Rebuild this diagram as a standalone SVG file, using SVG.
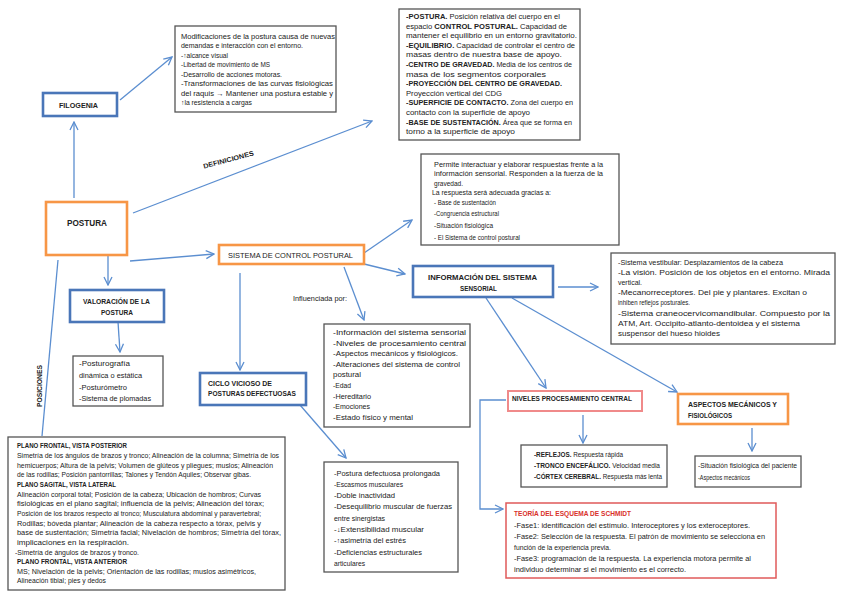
<svg xmlns="http://www.w3.org/2000/svg" width="848" height="599" viewBox="0 0 848 599">
<style>
text{font-family:"Liberation Sans",Arial,sans-serif;fill:#222;font-size:6.8px}
.b{font-weight:bold}
.lb{font-weight:bold;font-size:7px}
.sm{font-size:6.3px}
.bx{fill:#fff;stroke:#555;stroke-width:1.3}
.blue{fill:#fff;stroke:#4a76b8;stroke-width:2.6}
.orange{fill:#fff;stroke:#f79646;stroke-width:2.6}
.pink{fill:#fff;stroke:#f08a8a;stroke-width:2}
.red{fill:#fff;stroke:#e05a5a;stroke-width:1.5}
.con{fill:none;stroke:#5b8ed0;stroke-width:1.3;marker-end:url(#ah)}
.ln{fill:none;stroke:#5b8ed0;stroke-width:1.3}
</style>
<defs>
<marker id="ah" viewBox="0 0 10 10" refX="9" refY="5" markerWidth="10" markerHeight="10" markerUnits="userSpaceOnUse" orient="auto">
<path d="M1,1 L9,5 L1,9" fill="none" stroke="#5b8ed0" stroke-width="1.3"/>
</marker>
</defs>
<rect width="848" height="599" fill="#fff"/>

<g id="connectors">
<path class="con" d="M74,198 L74,122"/>
<path class="con" d="M120,100 L172,57"/>
<path class="con" d="M133,213 L372,121"/>
<path class="con" d="M130,261 L214,254"/>
<path class="con" d="M108,256 L108,285"/>
<path class="con" d="M118,322 L120,352"/>
<path class="ln" d="M58,260 L42,436"/>
<path class="con" d="M364,253 L412,220"/>
<path class="con" d="M360,263 L405,274"/>
<path class="con" d="M344,267 L364,320"/>
<path class="con" d="M240,273 L240,370"/>
<path class="con" d="M300,405 L346,458"/>
<path class="con" d="M558,287 L598,287"/>
<path class="con" d="M486,298 L546,388"/>
<path class="con" d="M512,298 L677,392"/>
<path class="con" d="M583,415 L583,443"/>
<path class="con" d="M752,428 L752,451"/>
<path class="con" d="M506,400 L480,400 L480,509 L503,509"/>
</g>

<g id="definiciones-label">
<text class="b" transform="translate(229,162) rotate(-15)" x="-26" y="0" textLength="52" lengthAdjust="spacingAndGlyphs">DEFINICIONES</text>
</g>
<g id="posiciones-label">
<text class="b" transform="translate(42,386) rotate(-90)" x="-21" y="0" textLength="42" lengthAdjust="spacingAndGlyphs">POSICIONES</text>
</g>
<g id="influenciada-label">
<text x="293" y="300.5" textLength="54" lengthAdjust="spacingAndGlyphs">Influenciada por:</text>
</g>

<g id="filogenia">
<rect class="blue" x="43" y="93" width="74" height="23"/>
<text class="lb" x="59" y="107.5" textLength="39" lengthAdjust="spacingAndGlyphs">FILOGENIA</text>
</g>

<g id="postura">
<rect class="orange" x="46" y="202" width="81" height="53"/>
<text class="b" style="font-size:8.5px" x="67" y="225.5" textLength="40" lengthAdjust="spacingAndGlyphs">POSTURA</text>
</g>

<g id="valoracion">
<rect class="blue" x="70" y="290" width="94" height="32"/>
<text class="b" x="83" y="303.5" textLength="67" lengthAdjust="spacingAndGlyphs">VALORACIÓN DE LA</text>
<text class="b" x="101" y="314.5" textLength="32" lengthAdjust="spacingAndGlyphs">POSTURA</text>
</g>

<g id="valoracion-lista">
<rect class="bx" x="73" y="356" width="90" height="50"/>
<text x="79" y="365.5" textLength="51" lengthAdjust="spacingAndGlyphs">-Posturografía</text>
<text x="79" y="378" textLength="63" lengthAdjust="spacingAndGlyphs">dinámica o estática</text>
<text x="79" y="389.5" textLength="48" lengthAdjust="spacingAndGlyphs">-Posturómetro</text>
<text x="79" y="400.5" textLength="72" lengthAdjust="spacingAndGlyphs">-Sistema de plomadas</text>
</g>

<g id="filogenia-texto">
<rect class="bx" x="175" y="26" width="161" height="86"/>
<text x="181" y="38.5" textLength="154" lengthAdjust="spacingAndGlyphs">Modificaciones de la postura causa de nuevas</text>
<text x="181" y="48" textLength="122" lengthAdjust="spacingAndGlyphs">demandas e interacción con el entorno.</text>
<text x="181" y="57.5" textLength="47" lengthAdjust="spacingAndGlyphs">-↑alcance visual</text>
<text x="181" y="67" textLength="89" lengthAdjust="spacingAndGlyphs">-Libertad de movimiento de MS</text>
<text x="181" y="76.5" textLength="101" lengthAdjust="spacingAndGlyphs">-Desarrollo de acciones motoras.</text>
<text x="181" y="86" textLength="152" lengthAdjust="spacingAndGlyphs">-Transformaciones de las curvas fisiológicas</text>
<text x="181" y="95.5" textLength="152" lengthAdjust="spacingAndGlyphs">del raquis → Mantener una postura estable y</text>
<text x="181" y="105" textLength="71" lengthAdjust="spacingAndGlyphs">↑la resistencia a cargas</text>
</g>

<g id="definiciones">
<rect class="bx" x="399" y="9" width="181" height="131"/>
<text x="406" y="19" textLength="154" lengthAdjust="spacingAndGlyphs"><tspan class="b">-POSTURA.</tspan> Posición relativa del cuerpo en el</text>
<text x="406" y="28.6" textLength="161" lengthAdjust="spacingAndGlyphs">espacio <tspan class="b">CONTROL POSTURAL.</tspan> Capacidad de</text>
<text x="406" y="38.2" textLength="171" lengthAdjust="spacingAndGlyphs">mantener el equilibrio en un entorno gravitatorio.</text>
<text x="406" y="47.8" textLength="169" lengthAdjust="spacingAndGlyphs"><tspan class="b">-EQUILIBRIO.</tspan> Capacidad de controlar el centro de</text>
<text x="406" y="57.4" textLength="156" lengthAdjust="spacingAndGlyphs">masas dentro de nuestra base de apoyo.</text>
<text x="406" y="67" textLength="166" lengthAdjust="spacingAndGlyphs"><tspan class="b">-CENTRO DE GRAVEDAD.</tspan> Media de los centros de</text>
<text x="406" y="76.6" textLength="140" lengthAdjust="spacingAndGlyphs">masa de los segmentos corporales</text>
<text x="406" y="86.2" textLength="156" lengthAdjust="spacingAndGlyphs"><tspan class="b">-PROYECCIÓN DEL CENTRO DE GRAVEDAD.</tspan></text>
<text x="406" y="95.8" textLength="96" lengthAdjust="spacingAndGlyphs">Proyección vertical del CDG</text>
<text x="406" y="105.4" textLength="167" lengthAdjust="spacingAndGlyphs"><tspan class="b">-SUPERFICIE DE CONTACTO.</tspan> Zona del cuerpo en</text>
<text x="406" y="115" textLength="124" lengthAdjust="spacingAndGlyphs">contacto con la superficie de apoyo</text>
<text x="406" y="124.6" textLength="166" lengthAdjust="spacingAndGlyphs"><tspan class="b">-BASE DE SUSTENTACIÓN.</tspan> Área que se forma en</text>
<text x="406" y="134.2" textLength="109" lengthAdjust="spacingAndGlyphs">torno a la superficie de apoyo</text>
</g>

<g id="sistema-control">
<rect class="orange" x="219" y="245" width="145" height="19"/>
<text style="font-size:7.5px" x="228" y="258" textLength="125" lengthAdjust="spacingAndGlyphs">SISTEMA DE CONTROL POSTURAL</text>
</g>

<g id="sistema-texto">
<rect class="bx" x="421" y="154" width="198" height="91"/>
<text x="434" y="166.5" textLength="169" lengthAdjust="spacingAndGlyphs">Permite interactuar y elaborar respuestas frente a la</text>
<text x="434" y="176" textLength="169" lengthAdjust="spacingAndGlyphs">información sensorial. Responden a la fuerza de la</text>
<text x="434" y="185.5" textLength="29" lengthAdjust="spacingAndGlyphs">gravedad.</text>
<text x="432" y="195" textLength="119" lengthAdjust="spacingAndGlyphs">La respuesta será adecuada gracias a:</text>
<text x="434" y="205" textLength="62" lengthAdjust="spacingAndGlyphs">- Base de sustentación</text>
<text x="434" y="216" textLength="65" lengthAdjust="spacingAndGlyphs">-Congruencia estructural</text>
<text x="434" y="227.5" textLength="59" lengthAdjust="spacingAndGlyphs">-Situación fisiológica</text>
<text x="434" y="240" textLength="86" lengthAdjust="spacingAndGlyphs">- El Sistema de control postural</text>
</g>

<g id="informacion-sensorial">
<rect class="blue" x="413" y="266" width="140" height="31"/>
<text class="b" x="428" y="280" textLength="109" lengthAdjust="spacingAndGlyphs">INFORMACIÓN DEL SISTEMA</text>
<text class="b" x="460" y="291" textLength="37" lengthAdjust="spacingAndGlyphs">SENSORIAL</text>
</g>

<g id="sensorial-texto">
<rect class="bx" x="611" y="253" width="224" height="91"/>
<text x="618" y="264.5" textLength="165" lengthAdjust="spacingAndGlyphs">-Sistema vestibular: Desplazamientos de la cabeza</text>
<text x="618" y="274.7" textLength="212" lengthAdjust="spacingAndGlyphs">-La visión. Posición de los objetos en el entorno. Mirada</text>
<text x="618" y="284.9" textLength="24" lengthAdjust="spacingAndGlyphs">vertical.</text>
<text x="618" y="295.1" textLength="189" lengthAdjust="spacingAndGlyphs">-Mecanorreceptores. Del pie y plantares. Excitan o</text>
<text x="618" y="305.3" textLength="72" lengthAdjust="spacingAndGlyphs">inhiben reflejos posturales.</text>
<text x="618" y="315.5" textLength="212" lengthAdjust="spacingAndGlyphs">-Sistema craneocervicomandibular. Compuesto por la</text>
<text x="618" y="325.7" textLength="182" lengthAdjust="spacingAndGlyphs">ATM, Art. Occipito-atlanto-dentoidea y el sistema</text>
<text x="618" y="335.9" textLength="102" lengthAdjust="spacingAndGlyphs">suspensor del hueso hioides</text>
</g>

<g id="influenciada">
<rect class="bx" x="324" y="324" width="146" height="103"/>
<text x="333" y="335" textLength="133" lengthAdjust="spacingAndGlyphs">-Información del sistema sensorial</text>
<text x="333" y="345.6" textLength="133" lengthAdjust="spacingAndGlyphs">-Niveles de procesamiento central</text>
<text x="333" y="356.2" textLength="125" lengthAdjust="spacingAndGlyphs">-Aspectos mecánicos y fisiológicos.</text>
<text x="333" y="366.8" textLength="127" lengthAdjust="spacingAndGlyphs">-Alteraciones del sistema de control</text>
<text x="333" y="377.4" textLength="28" lengthAdjust="spacingAndGlyphs">postural</text>
<text x="333" y="388" textLength="18" lengthAdjust="spacingAndGlyphs">-Edad</text>
<text x="333" y="398.6" textLength="38" lengthAdjust="spacingAndGlyphs">-Hereditario</text>
<text x="333" y="409.2" textLength="37" lengthAdjust="spacingAndGlyphs">-Emociones</text>
<text x="333" y="419.8" textLength="80" lengthAdjust="spacingAndGlyphs">-Estado físico y mental</text>
</g>

<g id="ciclo-vicioso">
<rect class="blue" x="200" y="373" width="106" height="32"/>
<text class="b" x="208" y="385.5" textLength="64" lengthAdjust="spacingAndGlyphs">CICLO VICIOSO DE</text>
<text class="b" x="208" y="395.5" textLength="88" lengthAdjust="spacingAndGlyphs">POSTURAS DEFECTUOSAS</text>
</g>

<g id="ciclo-texto">
<rect class="bx" x="324" y="462" width="134" height="110"/>
<text x="334" y="475.5" textLength="106" lengthAdjust="spacingAndGlyphs">-Postura defectuosa prolongada</text>
<text x="334" y="486.8" textLength="69" lengthAdjust="spacingAndGlyphs">-Escasmos musculares</text>
<text x="334" y="498.1" textLength="61" lengthAdjust="spacingAndGlyphs">-Doble inactividad</text>
<text x="334" y="509.4" textLength="118" lengthAdjust="spacingAndGlyphs">-Desequilibrio muscular de fuerzas</text>
<text x="334" y="520.7" textLength="51" lengthAdjust="spacingAndGlyphs">entre sinergistas</text>
<text x="334" y="532" textLength="90" lengthAdjust="spacingAndGlyphs">-↓Extensibilidad muscular</text>
<text x="334" y="543.3" textLength="72" lengthAdjust="spacingAndGlyphs">-↑asimetría del estrés</text>
<text x="334" y="554.6" textLength="88" lengthAdjust="spacingAndGlyphs">-Deficiencias estructurales</text>
<text x="334" y="565.9" textLength="31" lengthAdjust="spacingAndGlyphs">articulares</text>
</g>

<g id="posiciones">
<rect class="bx" x="8" y="437" width="277" height="153"/>
<text class="b sm" x="17" y="448.3" textLength="110" lengthAdjust="spacingAndGlyphs">PLANO FRONTAL, VISTA POSTERIOR</text>
<text class="sm" x="17" y="458" textLength="262" lengthAdjust="spacingAndGlyphs">Simetría de los ángulos de brazos y tronco; Alineación de la columna; Simetría de los</text>
<text class="sm" x="17" y="467.6" textLength="256" lengthAdjust="spacingAndGlyphs">hemicuerpos; Altura de la pelvis; Volumen de glúteos y pliegues; muslos; Alineación</text>
<text class="sm" x="17" y="477.3" textLength="234" lengthAdjust="spacingAndGlyphs">de las rodillas; Posición pantorrillas; Talones y Tendón Aquiles; Observar gibas.</text>
<text class="b sm" x="17" y="486.9" textLength="99" lengthAdjust="spacingAndGlyphs">PLANO SAGITAL, VISTA LATERAL</text>
<text class="sm" x="17" y="496.6" textLength="244" lengthAdjust="spacingAndGlyphs">Alineación corporal total; Posición de la cabeza; Ubicación de hombros; Curvas</text>
<text class="sm" x="17" y="506.2" textLength="247" lengthAdjust="spacingAndGlyphs">fisiológicas en el plano sagital; influencia de la pelvis; Alineación del tórax;</text>
<text class="sm" x="17" y="515.9" textLength="244" lengthAdjust="spacingAndGlyphs">Posición de los brazos respecto al tronco; Musculatura abdominal y paravertebral;</text>
<text class="sm" x="17" y="525.5" textLength="244" lengthAdjust="spacingAndGlyphs">Rodillas; bóveda plantar; Alineación de la cabeza respecto a tórax, pelvis y</text>
<text class="sm" x="17" y="535.2" textLength="264" lengthAdjust="spacingAndGlyphs">base de sustentación; Simetría facial; Nivelación de hombros; Simetría del tórax,</text>
<text class="sm" x="17" y="544.8" textLength="112" lengthAdjust="spacingAndGlyphs">implicaciones en la respiración.</text>
<text class="sm" x="15" y="554.5" textLength="124" lengthAdjust="spacingAndGlyphs">-Simetría de ángulos de brazos y tronco.</text>
<text class="b sm" x="17" y="564.1" textLength="110" lengthAdjust="spacingAndGlyphs">PLANO FRONTAL, VISTA ANTERIOR</text>
<text class="sm" x="17" y="573.8" textLength="239" lengthAdjust="spacingAndGlyphs">MS; Nivelación de la pelvis; Orientación de las rodillas; muslos asimétricos,</text>
<text class="sm" x="17" y="583.4" textLength="89" lengthAdjust="spacingAndGlyphs">Alineación tibial; pies y dedos</text>
</g>

<g id="niveles">
<rect class="pink" x="508" y="391" width="134" height="20"/>
<text class="b" x="512" y="400.5" textLength="120" lengthAdjust="spacingAndGlyphs">NIVELES PROCESAMIENTO CENTRAL</text>
</g>

<g id="niveles-texto">
<rect class="bx" x="521" y="445" width="146" height="42"/>
<text x="534" y="456.5" textLength="89" lengthAdjust="spacingAndGlyphs"><tspan class="b">-REFLEJOS.</tspan> Respuesta rápida</text>
<text x="534" y="467.5" textLength="126" lengthAdjust="spacingAndGlyphs"><tspan class="b">-TRONCO ENCEFÁLICO.</tspan> Velocidad media</text>
<text x="534" y="479" textLength="128" lengthAdjust="spacingAndGlyphs"><tspan class="b">-CÓRTEX CEREBRAL.</tspan> Respuesta más lenta</text>
</g>

<g id="aspectos">
<rect class="orange" x="678" y="394" width="110" height="30"/>
<text class="b" x="688" y="406.5" textLength="89" lengthAdjust="spacingAndGlyphs">ASPECTOS MECÁNICOS Y</text>
<text class="b" x="688" y="417.5" textLength="44" lengthAdjust="spacingAndGlyphs">FISIOLÓGICOS</text>
</g>

<g id="aspectos-texto">
<rect class="bx" x="695" y="456" width="106" height="31"/>
<text x="698" y="467.5" textLength="99" lengthAdjust="spacingAndGlyphs">-Situación fisiológica del paciente</text>
<text x="698" y="479.5" textLength="52" lengthAdjust="spacingAndGlyphs">-Aspectos mecánicos</text>
</g>

<g id="schmidt">
<rect class="red" x="506" y="503" width="270" height="75"/>
<text class="b" style="fill:#d9302a" x="514" y="515.5" textLength="117" lengthAdjust="spacingAndGlyphs">TEORÍA DEL ESQUEMA DE SCHMIDT</text>
<text x="514" y="527.5" textLength="236" lengthAdjust="spacingAndGlyphs">-Fase1: identificación del estímulo. Interoceptores y los exteroceptores.</text>
<text x="514" y="538.5" textLength="251" lengthAdjust="spacingAndGlyphs">-Fase2: Selección de la respuesta. El patrón de movimiento se selecciona en</text>
<text x="514" y="549.5" textLength="97" lengthAdjust="spacingAndGlyphs">función de la experiencia previa.</text>
<text x="514" y="560.5" textLength="237" lengthAdjust="spacingAndGlyphs">-Fase3: programación de la respuesta. La experiencia motora permite al</text>
<text x="514" y="571.5" textLength="172" lengthAdjust="spacingAndGlyphs">individuo determinar si el movimiento es el correcto.</text>
</g>
</svg>
